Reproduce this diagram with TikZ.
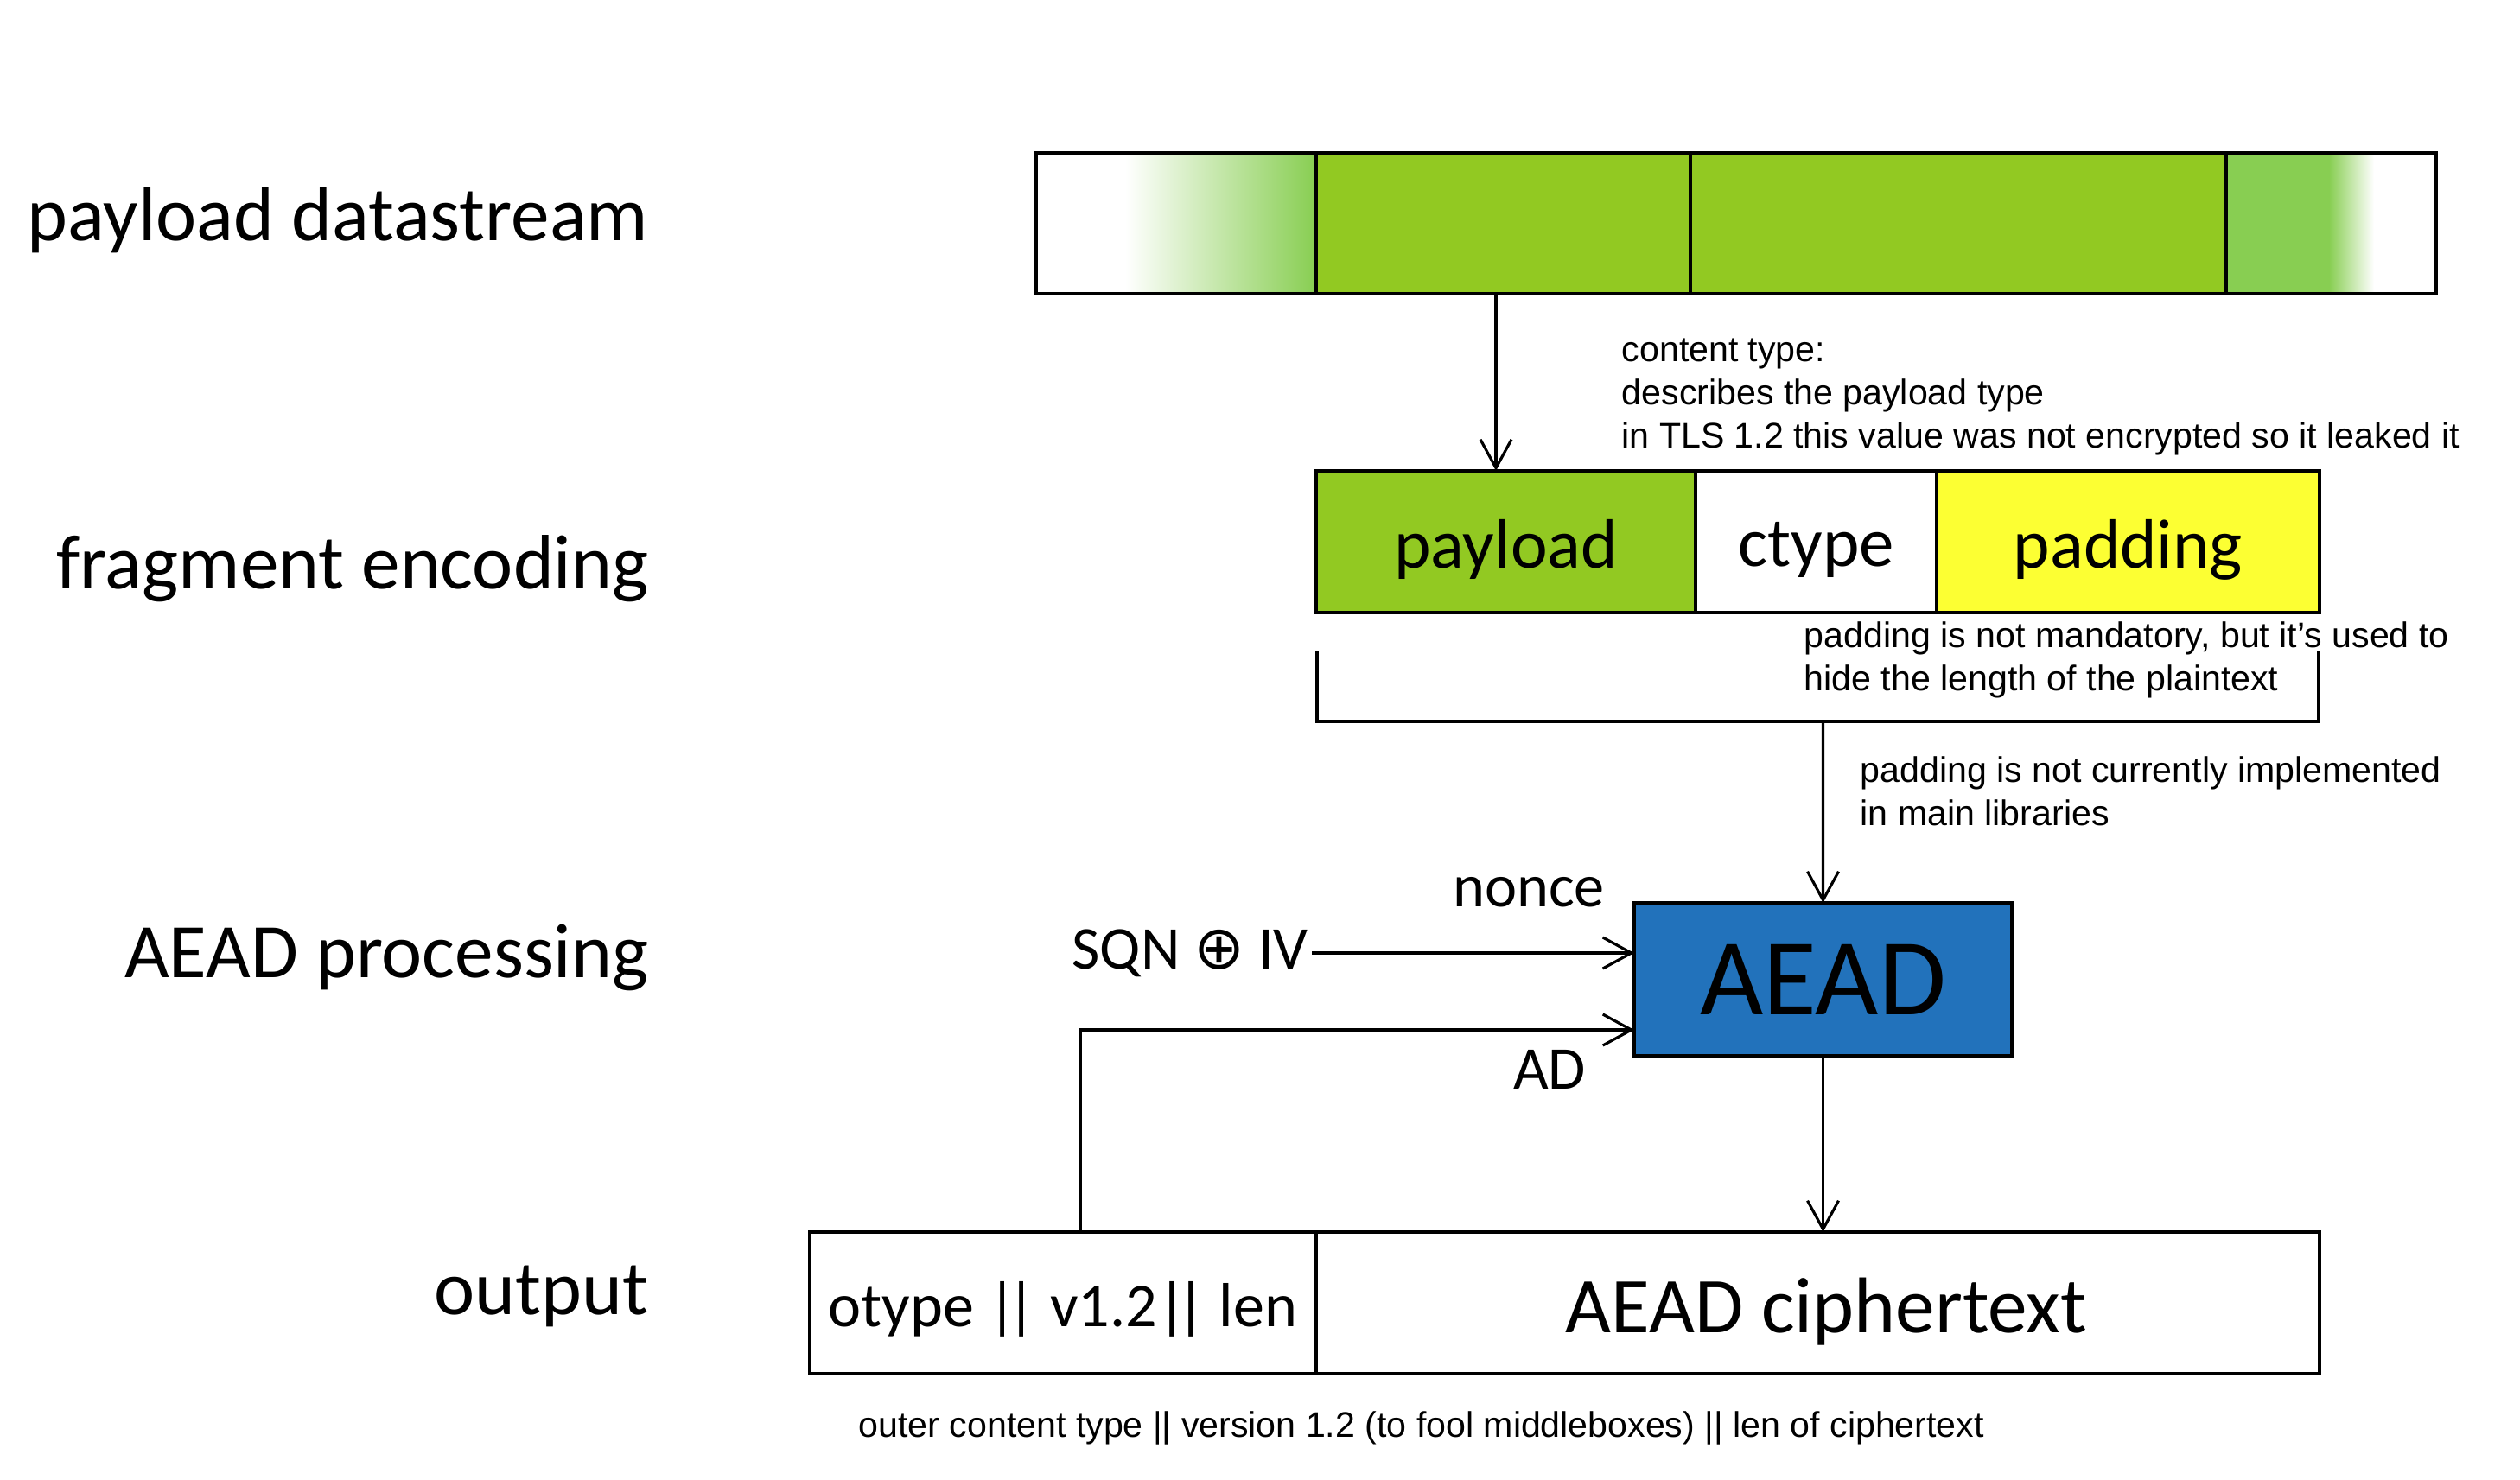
\documentclass[tikz,border=0pt]{standalone}
\usepackage{fontspec}
\setmainfont{Carlito}
\newfontfamily\arialf{Liberation Sans}
\newfontfamily\dejavu{DejaVu Sans}
\usetikzlibrary{arrows.meta}
\definecolor{grn}{RGB}{146,201,34}
\definecolor{lgrn}{RGB}{136,206,82}
\definecolor{ylw}{RGB}{252,255,51}
\definecolor{aeadblue}{RGB}{34,114,187}
\newcommand{\dbar}{|\kern-0.15em|}
\begin{document}
\begin{tikzpicture}[
  cell/.style={draw=black, line width=1.2pt, inner sep=0pt, outer sep=0pt, anchor=north west},
  ln/.style={line width=0.9pt},
  arr/.style={line width=0.9pt, -{Straight Barb[length=3.3mm,width=3.6mm,line width=0.9pt]}},
  lbl/.style={font=\fontsize{25.4}{30}\selectfont, anchor=base east, inner sep=0pt},
  boxtxt/.style={font=\fontsize{23}{28}\selectfont},
  note/.style={font=\arialf\fontsize{11.7}{14.2}\selectfont, align=left, anchor=north west, inner sep=0pt}
]
\useasboundingbox (0,0) rectangle (29.16,-17.12);

% --- payload datastream bar ---
\shade[left color=white, right color=lgrn] (13.02,-1.77) rectangle (15.23,-3.40);
\fill[lgrn] (25.76,-1.77) rectangle (26.95,-3.40);
\shade[left color=lgrn, right color=white] (26.95,-1.77) rectangle (27.47,-3.40);
\node[cell, minimum width=3.24cm, minimum height=1.63cm] (b0) at (11.99,-1.77) {};
\node[cell, fill=grn, minimum width=4.33cm, minimum height=1.63cm] (b1) at (15.23,-1.77) {};
\node[cell, fill=grn, minimum width=6.20cm, minimum height=1.63cm] (b2) at (19.56,-1.77) {};
\node[cell, minimum width=2.43cm, minimum height=1.63cm] (b3) at (25.76,-1.77) {};

% --- fragment encoding ---
\node[cell, fill=grn, minimum width=4.39cm, minimum height=1.64cm] (pl) at (15.23,-5.45) {};
\node[cell, minimum width=2.79cm, minimum height=1.64cm] (ct) at (19.62,-5.45) {};
\node[cell, fill=ylw, minimum width=4.43cm, minimum height=1.64cm] (pd) at (22.41,-5.45) {};
\node[boxtxt] at ([yshift=-0.09cm]pl.center) {payload};
\node[boxtxt] at ([yshift=-0.09cm]ct.center) {ctype};
\node[boxtxt] at ([yshift=-0.09cm]pd.center) {padding};

% --- bracket ---
\coordinate (brTL) at (15.24,-7.53);
\coordinate (brBL) at (15.24,-8.35);
\coordinate (brBR) at (26.83,-8.35);
\coordinate (brTR) at (26.83,-7.53);
\coordinate (brM) at (21.095,-8.35);
\draw[ln] (brTL) -- (brBL) -- (brBR) -- (brTR);

% --- AEAD ---
\node[cell, fill=aeadblue, minimum width=4.37cm, minimum height=1.77cm] (aead) at (18.91,-10.45) {};
\node[font=\fontsize{36}{40}\selectfont] at (aead.center) {AEAD};

% --- output ---
\node[cell, minimum width=5.86cm, minimum height=1.64cm] (o1) at (9.37,-14.26) {};
\node[cell, minimum width=11.61cm, minimum height=1.64cm] (o2) at (15.23,-14.26) {};
\node[font=\fontsize{20.5}{26}\selectfont, anchor=base, inner sep=0pt] at (o1.center |- 0,-15.35) {otype \dbar\ v1.2\dbar\ len};
\node[font=\fontsize{26}{30}\selectfont, anchor=base, inner sep=0pt] at ([xshift=0.1cm]o2.center |- 0,-15.42) {AEAD ciphertext};

% --- connectors ---
\draw[arr] (b1.south -| 17.31,0) -- (17.31,-5.45);
\draw[arr] (brM) -- (aead.north);
\draw[arr] (aead.south) -- (aead.south |- o2.north);
\node[font=\fontsize{20}{24}\selectfont, anchor=east, inner sep=1pt] (sqn) at (15.18,-11.03) {SQN {\dejavu ⊕} IV};
\draw[arr] (sqn.east) -- (sqn.east -| aead.west);
\coordinate (adc) at (12.50,-11.92);
\draw[arr] (adc |- o1.north) -- (adc) -- (adc -| aead.west);
\node[font=\fontsize{20}{24}\selectfont] (nonce) at (17.69,-10.33) {nonce};
\node[font=\fontsize{20}{24}\selectfont] (ad) at (17.93,-12.38) {AD};

% --- row labels ---
\node[lbl] (l1) at (7.51,-2.78) {payload datastream};
\node[lbl] (l2) at (7.51,-6.81) {fragment encoding};
\node[lbl] (l3) at (7.51,-11.31) {AEAD processing};
\node[lbl] (l4) at (7.51,-15.21) {output};

% --- notes ---
\node[note] (n1) at (18.76,-3.91) {content type:\\describes the payload type\\in TLS 1.2 this value was not encrypted so it leaked it};
\node[note] (n2) at (20.87,-7.19) {padding is not mandatory, but it’s used to\\hide the length of the plaintext};
\node[note] (n3) at (21.52,-8.75) {padding is not currently implemented\\in main libraries};
\node[note, anchor=base west] (n4) at (9.93,-16.63) {outer content type || version 1.2 (to fool middleboxes) || len of ciphertext};
\end{tikzpicture}
\end{document}
